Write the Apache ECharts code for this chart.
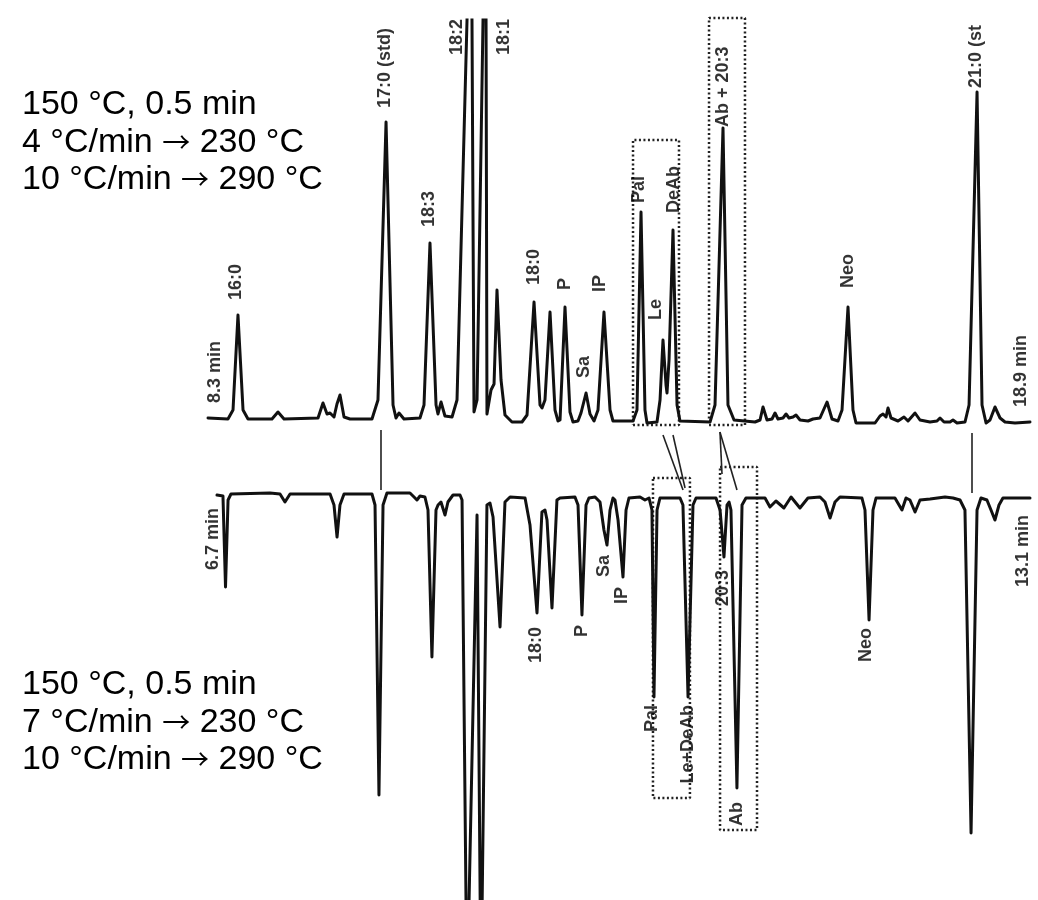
<!DOCTYPE html>
<html>
<head>
<meta charset="utf-8">
<script src="https://cdn.jsdelivr.net/npm/echarts@6/dist/echarts.min.js"></script>
<style>html,body{margin:0;padding:0;background:#fff;}#c{width:1038px;height:900px;}</style>
</head>
<body>
<div id="c"></div>
<script>
// Upper chromatogram (4 °C/min program): [retention time (min), detector response]
const topTrace = [
[8.313,4],[8.570,3],[8.635,12],[8.699,107],[8.764,12],[8.828,3],
[9.137,3],[9.214,10],[9.292,3],
[9.730,4],[9.794,19],[9.846,8],[9.884,9],[9.936,5],[9.974,18],[10.013,27],[10.065,5],[10.142,3],
[10.425,3],[10.502,22],[10.606,300],[10.696,17],[10.734,4],[10.773,9],[10.837,3],
[11.043,4],[11.095,17],[11.172,179],[11.250,17],[11.275,8],[11.314,20],[11.365,6],[11.456,5],
[11.520,22],[11.649,402],[11.681,572],[11.713,402],[11.739,10],
[11.778,22],[11.855,402],[11.874,572],[11.894,402],[11.906,8],
[11.958,32],[11.997,38],[12.035,132],[12.087,42],[12.138,7],[12.228,0],
[12.357,0],[12.422,7],[12.512,120],[12.589,17],[12.615,14],[12.653,22],[12.718,110],[12.782,12],[12.821,1],
[12.847,2],[12.911,115],[12.975,10],[13.014,0],
[13.078,1],[13.117,9],[13.182,29],[13.233,8],[13.285,1],
[13.336,12],[13.413,110],[13.491,12],[13.529,1],
[13.787,1],[13.838,12],[13.890,210],[13.941,12],[13.967,-1],
[14.096,0],[14.135,22],[14.173,82],[14.212,37],[14.225,29],[14.251,62],[14.302,192],[14.354,17],[14.392,1],
[14.779,0],[14.843,17],[14.946,294],[15.010,17],[15.036,12],[15.088,2],
[15.358,0],[15.423,2],[15.461,15],[15.513,2],[15.577,3],[15.616,9],[15.654,3],[15.719,4],[15.758,8],[15.796,4],[15.848,5],[15.886,7],[15.938,2],
[16.041,1],[16.105,3],[16.195,4],[16.286,20],[16.350,3],[16.427,1],
[16.479,12],[16.556,115],[16.620,12],[16.659,-1],
[16.904,-1],[16.968,6],[17.007,8],[17.046,5],[17.071,14],[17.110,4],[17.200,1],[17.277,5],[17.329,1],[17.419,9],[17.483,2],
[17.612,0],[17.702,1],[17.741,4],[17.793,0],[17.870,0],[17.908,2],[17.960,-1],
[18.063,0],[18.115,17],[18.218,330],[18.282,17],[18.334,-1],
[18.385,2],[18.449,15],[18.514,4],[18.578,0],[18.707,-1],[18.900,0]
];

// Lower chromatogram (7 °C/min program), plotted mirrored: [retention time (min), detector response]
const bottomTrace = [
[6.700,-1],[6.747,0],[6.767,91],[6.787,4],[6.810,-2],
[7.117,-3],[7.196,-2],[7.235,6],[7.275,-2],
[7.590,-2],[7.621,9],[7.645,41],[7.668,9],[7.700,-2],
[7.920,-2],[7.944,9],[7.975,299],[8.007,9],[8.038,-3],
[8.219,-3],[8.251,1],[8.274,4],[8.298,0],[8.337,1],[8.361,14],[8.392,161],[8.424,14],[8.440,9],[8.463,6],[8.495,19],[8.518,6],[8.558,-1],
[8.613,-1],[8.629,4],[8.668,504],[8.747,19],[8.778,504],[8.825,9],[8.849,7],[8.873,21],[8.928,131],[8.967,6],[9.007,1],
[9.125,2],[9.164,29],[9.219,117],[9.258,16],[9.282,14],[9.298,24],[9.337,112],[9.376,4],[9.400,2],
[9.518,1],[9.542,9],[9.573,119],[9.605,9],[9.628,2],
[9.676,1],[9.715,6],[9.746,34],[9.770,49],[9.794,14],[9.817,2],[9.833,4],[9.857,24],[9.896,81],[9.920,14],[9.943,2],
[10.030,1],[10.069,4],[10.101,2],[10.124,14],[10.140,201],[10.164,14],[10.187,2],
[10.345,2],[10.368,9],[10.408,201],[10.447,9],[10.471,2],
[10.628,2],[10.660,14],[10.691,61],[10.715,9],[10.731,6],[10.746,14],[10.793,292],[10.833,9],[10.864,2],
[11.014,2],[11.053,11],[11.100,5],[11.163,12],[11.219,1],[11.289,12],[11.352,2],
[11.447,1],[11.486,6],[11.526,22],[11.565,6],[11.604,1],
[11.777,2],[11.801,14],[11.833,124],[11.864,14],[11.888,2],
[12.037,2],[12.069,9],[12.092,14],[12.124,2],[12.155,4],[12.195,16],[12.234,4],[12.313,3],[12.431,1],[12.494,2],[12.549,4],
[12.588,14],[12.636,337],[12.683,14],[12.714,2],
[12.761,4],[12.793,14],[12.824,24],[12.856,9],[12.887,2],[13.100,2]
];

// Peak labels: [text, retention time, response at label end]
const topLabels = [
['8.3 min', 8.409, 19],
['16:0', 8.677, 122],
['17:0 (std)', 10.593, 314],
['18:3', 11.159, 195],
['18:2', 11.526, 367],
['18:1', 12.125, 367],
['18:0', 12.512, 137],
['P', 12.911, 132],
['Sa', 13.156, 44],
['IP', 13.362, 130],
['Pal', 13.864, 219],
['Le', 14.083, 102],
['DeAb', 14.315, 209],
['Ab + 20:3', 14.946, 295],
['Neo', 16.556, 134],
['21:0 (st', 18.205, 334],
['18.9 min', 18.784, 15]
];
const bottomLabels = [
['6.7 min', 6.669, 12],
['18:0', 9.211, 131],
['P', 9.573, 129],
['Sa', 9.746, 59],
['IP', 9.888, 91],
['Pal', 10.124, 209],
['Le+DeAb', 10.408, 209],
['20:3', 10.683, 74],
['Ab', 10.793, 306],
['Neo', 11.809, 132],
['13.1 min', 13.045, 19]
];

// Dotted boxes: [t start, t end, response low, response high]
const topBoxes = [[13.787, 14.379, -3, 282], [14.766, 15.229, -3, 404]];
const bottomBoxes = [[10.132, 10.423, -18, 302], [10.660, 10.951, -29, 334]];

// Correspondence lines between the two runs (upper-run coordinates)
const links = [
[[10.541,-8],[10.541,-68]],
[[18.153,-11],[18.153,-71]],
[[14.173,-13],[14.431,-68]],
[[14.302,-13],[14.457,-66]],
[[14.907,-10],[15.126,-68]],
[[14.907,-10],[14.933,-52]]
];

// Temperature programmes
const topProgram = ['150 °C, 0.5 min', '4 °C/min {a|\u2192} 230 °C', '10 °C/min {a|\u2192} 290 °C'];
const bottomProgram = ['150 °C, 0.5 min', '7 °C/min {a|\u2192} 230 °C', '10 °C/min {a|\u2192} 290 °C'];

const FONT = '"Liberation Sans", Arial, Helvetica, sans-serif';
const INK = '#111';

const chart = echarts.init(document.getElementById('c'), null, {renderer: 'canvas'});

const hiddenAxis = {show: false, splitLine: {show: false}};
const series = [];

series.push({
  type: 'line', xAxisIndex: 0, yAxisIndex: 0, data: topTrace, symbol: 'none',
  lineStyle: {color: INK, width: 3, cap: 'round', join: 'round'}, clip: true, silent: true
});
series.push({
  type: 'line', xAxisIndex: 1, yAxisIndex: 1, data: bottomTrace, symbol: 'none',
  lineStyle: {color: INK, width: 3, cap: 'round', join: 'round'}, clip: true, silent: true
});

function labelSeries(list, idx, align) {
  return {
    type: 'scatter', xAxisIndex: idx, yAxisIndex: idx, symbolSize: 1, clip: false, silent: true,
    itemStyle: {color: 'rgba(0,0,0,0)'},
    data: list.map(l => ({name: l[0], value: [l[1], l[2]]})),
    label: {
      show: true, formatter: '{b}', position: 'inside', distance: 0, rotate: 90,
      align: align, verticalAlign: 'middle',
      fontFamily: FONT, fontWeight: 'bold', fontSize: 18, color: '#000'
    },
    z: 5
  };
}
series.push(labelSeries(topLabels, 0, 'left'));
series.push(labelSeries(bottomLabels, 1, 'right'));

function boxData(b) {
  return [[b[0], b[2]], [b[1], b[2]], [b[1], b[3]], [b[0], b[3]], [b[0], b[2]]];
}
topBoxes.forEach(b => series.push({
  type: 'line', xAxisIndex: 0, yAxisIndex: 0, data: boxData(b), symbol: 'none', clip: false, silent: true,
  lineStyle: {color: '#222', width: 2.5, type: [2, 2.5]}, z: 1
}));
bottomBoxes.forEach(b => series.push({
  type: 'line', xAxisIndex: 1, yAxisIndex: 1, data: boxData(b), symbol: 'none', clip: false, silent: true,
  lineStyle: {color: '#222', width: 2.5, type: [2, 2.5]}, z: 1
}));
links.forEach(l => series.push({
  type: 'line', xAxisIndex: 0, yAxisIndex: 0, data: l, symbol: 'none', clip: false, silent: true,
  lineStyle: {color: '#222', width: 1.6}, z: 1
}));

const graphic = [];
const topY = [105, 142.5, 179.5];
const botY = [685, 722.5, 759.5];
function progText(t, y) {
  return {
    type: 'text', x: 22, y: y, silent: true,
    style: {
      text: t, fontFamily: FONT, fontSize: 34, fill: '#000', align: 'left', verticalAlign: 'middle',
      rich: {a: {fontFamily: '"Noto Sans CJK SC", "DejaVu Sans", sans-serif', fontSize: 28, fill: '#000'}}
    }
  };
}
topProgram.forEach((t, i) => graphic.push(progText(t, topY[i])));
bottomProgram.forEach((t, i) => graphic.push(progText(t, botY[i])));

chart.setOption({
  animation: false,
  backgroundColor: '#ffffff',
  grid: [
    {left: 207, width: 823, top: 20, height: 414},
    {left: 217, width: 813, top: 480, height: 420}
  ],
  xAxis: [
    Object.assign({type: 'value', gridIndex: 0, min: 8.3, max: 18.9}, hiddenAxis),
    Object.assign({type: 'value', gridIndex: 1, min: 6.7, max: 13.1}, hiddenAxis)
  ],
  yAxis: [
    Object.assign({type: 'value', gridIndex: 0, min: -12, max: 402}, hiddenAxis),
    Object.assign({type: 'value', gridIndex: 1, min: -16, max: 404, inverse: true}, hiddenAxis)
  ],
  graphic: graphic,
  series: series
});
</script>
</body>
</html>
